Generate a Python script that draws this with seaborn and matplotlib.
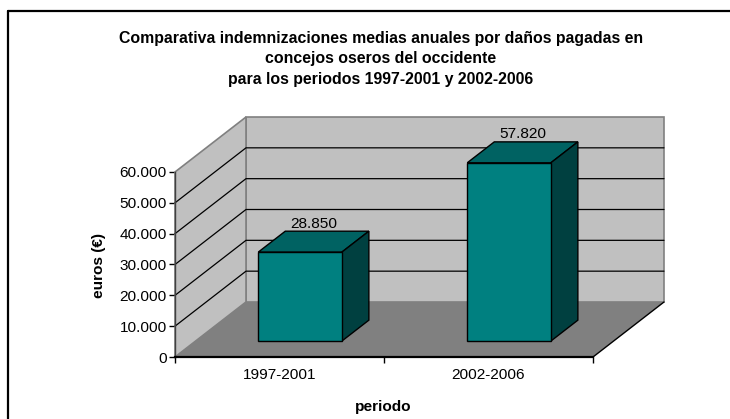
import matplotlib
matplotlib.use("Agg")
import matplotlib.pyplot as plt
import numpy as np
import pandas as pd
import seaborn as sns
from matplotlib.patches import Polygon
from matplotlib.transforms import Affine2D
from matplotlib.lines import Line2D

# ---- data ----
periods = ["1997-2001", "2002-2006"]
values = [28850, 57820]
value_labels = ["28.850", "57.820"]
yticks = [0, 10000, 20000, 30000, 40000, 50000, 60000]
ytick_labels = ["0", "10.000", "20.000", "30.000", "40.000", "50.000", "60.000"]
title = ("Comparativa indemnizaciones medias anuales por daños pagadas en\n"
         "concejos oseros del occidente\n"
         "para los periodos 1997-2001 y 2002-2006")
xlabel = "periodo"
ylabel = "euros (€)"

sns.set_theme(style="white")
plt.rcParams["font.family"] = ["Liberation Sans", "DejaVu Sans"]

W, H = 730, 419
fig = plt.figure(figsize=(W / 100, H / 100), dpi=100)
fig.patch.set_facecolor("white")

FS = 11.1

# front plane of the 3D box
ax_l, ax_r, ax_b, ax_t = 175, 593, 357, 172
ax = fig.add_axes([ax_l / W, (H - ax_b) / H, (ax_r - ax_l) / W, (ax_b - ax_t) / H])
ax.set_facecolor("none")

df = pd.DataFrame({"periodo": periods, "euros": values})
sns.barplot(data=df, x="periodo", y="euros", width=0.4, color="#008080",
            saturation=1, edgecolor="black", linewidth=1.0, ax=ax, zorder=4)
bars = list(ax.patches)

ax.set_xlim(-0.5, 1.5)
ax.set_ylim(0, 60000)
YMAX = 60000

# oblique depth projection (in data units for a full depth of 1)
DX = 71 / 209.0
DY = 55 / 185.0 * YMAX


def P(x, y, d):
    return (x + d * DX, y + d * DY)


# walls and floor
back = Polygon([P(-0.5, 0, 1), P(1.5, 0, 1), P(1.5, YMAX, 1), P(-0.5, YMAX, 1)],
               closed=True, fc="#c0c0c0", ec="#808080", lw=1.2, clip_on=False, zorder=0.5)
side = Polygon([P(-0.5, 0, 0), P(-0.5, 0, 1), P(-0.5, YMAX, 1), P(-0.5, YMAX, 0)],
               closed=True, fc="#c0c0c0", ec="#808080", lw=1.2, clip_on=False, zorder=0.6)
floor = Polygon([P(-0.5, 0, 0), P(1.5, 0, 0), P(1.5, 0, 1), P(-0.5, 0, 1)],
                closed=True, fc="#808080", ec="none", clip_on=False, zorder=0.7)
for poly in (back, side, floor):
    ax.add_patch(poly)
# floor right edge
ax.plot(*zip(P(1.5, 0, 0), P(1.5, 0, 1)), color="black", lw=1.0, clip_on=False, zorder=0.8)

# gridlines on side and back wall
for v in yticks[1:-1]:
    pts = [P(-0.5, v, 0), P(-0.5, v, 1), P(1.5, v, 1)]
    ax.plot([p[0] for p in pts], [p[1] for p in pts], color="black", lw=0.9,
            clip_on=False, zorder=0.9)

# bars: front face shifted in depth, plus top and side faces
d0, d1 = 0.29, 0.67
dm = (d0 + d1) / 2
for bar, lab in zip(bars, value_labels):
    x0, w, h = bar.get_x(), bar.get_width(), bar.get_height()
    bar.set_transform(Affine2D().translate(d0 * DX, d0 * DY) + ax.transData)
    bar.set_clip_on(False)
    top = Polygon([P(x0, h, d0), P(x0 + w, h, d0), P(x0 + w, h, d1), P(x0, h, d1)],
                  closed=True, fc="#006262", ec="black", lw=1.0, clip_on=False, zorder=3.5)
    rside = Polygon([P(x0 + w, 0, d0), P(x0 + w, 0, d1), P(x0 + w, h, d1), P(x0 + w, h, d0)],
                    closed=True, fc="#004040", ec="black", lw=1.0, clip_on=False, zorder=3.5)
    ax.add_patch(top)
    ax.add_patch(rside)
    ax.annotate(lab, xy=(P(x0 + w / 2, h, dm)[0], h + d1 * DY), xytext=(0, 0.5),
                textcoords="offset points", ha="center", va="bottom", fontsize=FS,
                color="black", annotation_clip=False, zorder=6)

# axes styling
for s in ("top", "right"):
    ax.spines[s].set_visible(False)
ax.spines["left"].set_color("#404040")
ax.spines["left"].set_linewidth(1.0)
ax.spines["bottom"].set_color("black")
ax.spines["bottom"].set_linewidth(1.6)
ax.spines["left"].set_zorder(1)
ax.spines["bottom"].set_zorder(1)

ax.set_yticks(yticks, ytick_labels)
ax.tick_params(axis="y", which="major", direction="out", length=4, width=1,
               color="black", pad=2, labelsize=FS, labelcolor="black", left=True)
ax.set_xticks([0, 1], periods)
ax.set_xticks([-0.5, 0.5, 1.5], minor=True)
ax.tick_params(axis="x", which="major", length=0, pad=8, labelsize=FS, labelcolor="black")
ax.tick_params(axis="x", which="minor", direction="out", length=4, width=1,
               color="black", bottom=True)

ax.set_xlabel(xlabel, fontsize=FS, fontweight="bold", color="black")
ax.set_ylabel(ylabel, fontsize=FS, fontweight="bold", color="black")
ax.xaxis.set_label_coords((383 - ax_l) / (ax_r - ax_l), (ax_b - 407) / (ax_b - ax_t))
ax.xaxis.label.set_va("center")
ax.yaxis.set_label_coords((99 - ax_l) / (ax_r - ax_l), (ax_b - 265) / (ax_b - ax_t))
ax.yaxis.label.set_va("center")

fig.text(381 / W, 1 - 31 / H, title, ha="center", va="top", fontsize=11.4,
         fontweight="bold", linespacing=1.45, color="black")

# chart area border (top and left edges visible)
fig.add_artist(Line2D([8 / W, 1.0], [1 - 11 / H, 1 - 11 / H], transform=fig.transFigure,
                      color="black", lw=1.6))
fig.add_artist(Line2D([8 / W, 8 / W], [0.0, 1 - 11 / H], transform=fig.transFigure,
                      color="black", lw=1.6))

fig.savefig("out.png", dpi=100, facecolor="white")
